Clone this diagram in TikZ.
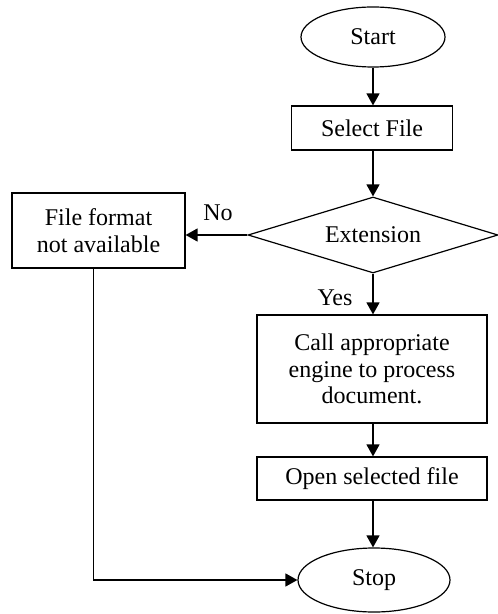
\documentclass[tikz,border=0pt]{standalone}
\usepackage{fontspec}
\setmainfont{Liberation Serif}
\usetikzlibrary{shapes.geometric,arrows.meta}

\begin{document}
\begin{tikzpicture}[x=0.5pt, y=-0.5pt,
        every node/.style={font=\fontsize{12}{13.4}\selectfont, align=center},
        terminal/.style={draw, ellipse, line width=0.6pt, inner sep=0pt},
        stepbox/.style={draw, rectangle, line width=0.6pt, inner sep=0pt},
        decision/.style={draw, diamond, aspect=3.2, line width=0.6pt, inner sep=1pt,
                         minimum width=125pt, minimum height=38pt},
        flow/.style={line width=0.7pt, -{Triangle[length=6pt, width=6.5pt]}}]
            \useasboundingbox (0,0) rectangle (497,614);

            % Start / Stop (ellipses)
            \node[terminal, minimum width=72pt, minimum height=30pt] (start) at (373,37) {Start};
            \node[terminal, minimum width=76pt, minimum height=32pt] (stop) at (374,580) {Stop};

            % Process boxes
            \node[stepbox, minimum width=80.5pt, minimum height=22pt] (select) at (372,128) {Select File};
            \node[stepbox, minimum width=115pt, minimum height=54pt] (call) at (372,369)
                {Call appropriate\\engine to process\\document.};
            \node[stepbox, minimum width=115pt, minimum height=21.5pt] (open) at (372,478.5) {Open selected file};
            \node[stepbox, minimum width=86.5pt, minimum height=37.5pt] (nofile) at (98.5,230.5)
                {File format\\not available};

            % Decision
            \node[decision] (ext) at (373,235) {Extension};

            % Main flow (straight down)
            \foreach \a/\b in {start/select, select/ext, ext/call, call/open, open/stop} {
                \draw[flow] (\a.south -| ext) -- (\b.north -| ext);
            }

            % No branch
            \draw[flow] (ext.west) -- (ext.west -| nofile.east);
            \draw[flow] ([xshift=-2.5pt]nofile.south) |- (stop.west);

            % Branch labels
            \node (no) at (218,213) {No};
            \node (yes) at (335,298) {Yes};

        \end{tikzpicture}
\end{document}
